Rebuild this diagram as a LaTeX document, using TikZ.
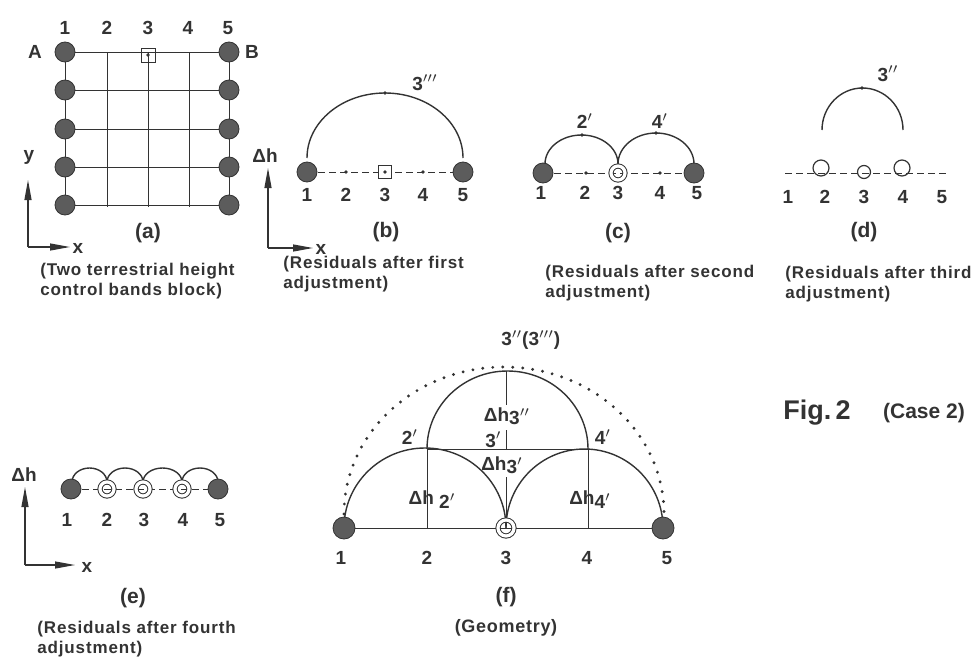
\documentclass[tikz,border=0pt]{standalone}
\usepackage{fontspec}
\setmainfont{Liberation Sans}
\usetikzlibrary{arrows.meta}
\definecolor{ink}{gray}{0.2}
\definecolor{dotgray}{gray}{0.36}

\tikzset{
  station/.style={circle, fill=dotgray, draw=ink, line width=0.4pt, minimum size=10pt, inner sep=0pt},
  ring/.style={circle, draw=ink, double=white, double distance=1.6pt, line width=0.5pt, minimum size=7pt, inner sep=0pt},
  hollow/.style={circle, draw=ink, line width=0.6pt, inner sep=0pt},
  pt/.style={circle, fill=ink, minimum size=1.8pt, inner sep=0pt},
  num/.style={font=\bfseries\fontsize{9.5}{11}\selectfont, text=ink, inner sep=0pt},
  tag/.style={font=\bfseries\fontsize{10.5}{12}\selectfont, text=ink, inner sep=0pt},
  capt/.style={font=\bfseries\fontsize{8.5}{10}\selectfont\addfontfeature{LetterSpace=5}, text=ink, align=left, anchor=north west, inner sep=0pt},
  axis/.style={draw=ink, line width=0.6pt, -{Triangle[length=10pt,width=3.5pt]}},
  base/.style={draw=ink, line width=0.5pt, dash pattern=on 3.5pt off 2pt},
  grid/.style={draw=ink, line width=0.5pt},
  arcline/.style={draw=ink, line width=0.7pt}
}

\begin{document}
\begin{tikzpicture}[x=0.5pt,y=-0.5pt]
  \useasboundingbox (0,0) rectangle (979,664);

  % (a) control bands block
  \foreach \r/\y in {1/52,2/90,3/129,4/167,5/205}{
    \coordinate (aL\r) at (65,\y);
    \coordinate (aR\r) at (229,\y);
    \draw[grid] (aL\r) -- (aR\r);
  }
  \foreach \c/\x in {2/107,3/148,4/189}{
    \coordinate (aT\c) at (\x,52);
    \coordinate (aB\c) at (\x,207);
    \draw[grid] (aT\c) -- (aB\c);
  }
  \draw[grid] (aL1) -- (aL5);
  \draw[grid] (aR1) -- (aR5);
  \foreach \r in {1,...,5}{
    \node[station] (sL\r) at (aL\r) {};
    \node[station] (sR\r) at (aR\r) {};
  }
  \node[draw=ink, line width=0.5pt, minimum size=7pt, inner sep=0pt] (aSq) at (148,55) {};
  \node[pt] (aSqDot) at (aSq) {};
  \foreach \c/\x in {1/65,2/107,3/148,4/188,5/228}
    \node[num] (aN\c) at (\x,28) {\c};
  \node[num] (aA) at (35,52) {A};
  \node[num] (aB) at (252,52) {B};
  \node[tag] (aTag) at (148,233) {(a)};
  \coordinate (aO) at (28,247);
  \coordinate (aY) at (28,180);
  \coordinate (aX) at (70,247);
  \draw[axis] (aO) -- (aY);
  \draw[axis] (aO) -- (aX);
  \node[num] (aYl) at (29,157) {y};
  \node[num] (aXl) at (78,248) {x};
  \node[capt] (aCap) at (40,263) {(Two terrestrial height\\control bands block)};

  % (b) first adjustment
  \foreach \i/\x in {1/307,2/346,3/385,4/423,5/463}{
    \coordinate (b\i) at (\x,172);
    \node[num] (bN\i) at (\x,195) {\i};
  }
  \draw[base] (b1) -- (b5);
  \coordinate (bArc) at (307,158);
  \draw[arcline] (bArc) arc[start angle=180, end angle=360, x radius=78, y radius=65];
  \node[pt] (bTop) at (385,93) {};
  \node[station] (bS1) at (b1) {};
  \node[station] (bS5) at (b5) {};
  \node[pt] (bP2) at (b2) {};
  \node[pt] (bP4) at (b4) {};
  \node[draw=ink, fill=white, line width=0.5pt, minimum size=6.5pt, inner sep=0pt] (bSq) at (b3) {};
  \node[pt] (bSqDot) at (bSq) {};
  \node[num] (bLab) at (425,83) {3$^{\prime\prime\prime}$};
  \node[tag] (bTag) at (386,232) {(b)};
  \coordinate (bO) at (268,248);
  \coordinate (bY) at (268,168);
  \coordinate (bX) at (313,248);
  \draw[axis] (bO) -- (bY);
  \draw[axis] (bO) -- (bX);
  \node[num] (bYl) at (265,156) {Δh};
  \node[num] (bXl) at (321,249) {x};
  \node[capt] (bCap) at (283,256) {(Residuals after first\\adjustment)};

  % (c) second adjustment
  \foreach \i/\x in {1/543,2/586,3/618,4/660,5/694}
    \coordinate (c\i) at (\x,173);
  \foreach \i/\x in {1/541,2/585,3/618,4/660,5/697}
    \node[num] (cN\i) at (\x,193) {\i};
  \draw[base] (c1) -- (c5);
  \draw[arcline] (545,164) arc[start angle=180, end angle=360, x radius=36.5, y radius=29];
  \draw[arcline] (618,164) arc[start angle=180, end angle=360, x radius=38, y radius=31];
  \node[pt] (cTop2) at (582,135) {};
  \node[pt] (cTop4) at (656,133) {};
  \node[station] (cS1) at (c1) {};
  \node[station] (cS5) at (c5) {};
  \node[pt] (cP2) at (c2) {};
  \node[pt] (cP4) at (c4) {};
  \node[ring] (cR3) at (c3) {};
  \node[num] (cLab2) at (585,121) {2$^{\prime}$};
  \node[num] (cLab4) at (660,121) {4$^{\prime}$};
  \node[tag] (cTag) at (618,233) {(c)};
  \node[capt] (cCap) at (545,265) {(Residuals after second\\adjustment)};

  % (d) third adjustment
  \coordinate (dL) at (785,173);
  \coordinate (dR) at (947,173);
  \draw[base] (dL) -- (dR);
  \node[hollow, minimum size=8pt] (dC2) at (821,168) {};
  \node[hollow, minimum size=6.5pt] (dC3) at (864,172) {};
  \node[hollow, minimum size=8pt] (dC4) at (902,168) {};
  \draw[arcline] (822,130) arc[start angle=180, end angle=360, x radius=40.5, y radius=42];
  \node[pt] (dTop) at (862,88) {};
  \node[num] (dLab) at (888,74) {3$^{\prime\prime}$};
  \foreach \i/\x in {1/788,2/825,3/864,4/903,5/942}
    \node[num] (dN\i) at (\x,197) {\i};
  \node[tag] (dTag) at (864,232) {(d)};
  \node[capt] (dCap) at (785,266) {(Residuals after third\\adjustment)};

  % (e) fourth adjustment
  \foreach \i/\x in {1/71,2/107,3/143,4/182,5/218}
    \coordinate (e\i) at (\x,489);
  \draw[base] (e1) -- (e5);
  \draw[arcline] (72,482) arc[start angle=180, end angle=360, x radius=17.5, y radius=14];
  \draw[arcline] (107,482) arc[start angle=180, end angle=360, x radius=18, y radius=14];
  \draw[arcline] (143,482) arc[start angle=180, end angle=360, x radius=19.5, y radius=14];
  \draw[arcline] (182,482) arc[start angle=180, end angle=360, x radius=18, y radius=14];
  \node[station] (eS1) at (e1) {};
  \node[station] (eS5) at (e5) {};
  \foreach \i in {2,3,4}
    \node[ring] (eR\i) at (e\i) {};
  \foreach \i/\x in {1/67,2/107,3/144,4/183,5/220}
    \node[num] (eN\i) at (\x,520) {\i};
  \coordinate (eO) at (25,565);
  \coordinate (eY) at (25,487);
  \coordinate (eX) at (75,565);
  \draw[axis] (eO) -- (eY);
  \draw[axis] (eO) -- (eX);
  \node[num] (eYl) at (24,475) {Δh};
  \node[num] (eXl) at (87,567) {x};
  \node[tag] (eTag) at (133,598) {(e)};
  \node[capt] (eCap) at (37,621) {(Residuals after fourth\\adjustment)};

  % (f) geometry
  \foreach \i/\x in {1/344,2/427,3/506,4/588,5/663}
    \coordinate (f\i) at (\x,528);
  \coordinate (fT2) at (427,449);
  \coordinate (fT4) at (588,449);
  \draw[grid] (f1) -- (f5);
  \draw[grid] (f2) -- (fT2);
  \draw[grid] (f4) -- (fT4);
  \draw[grid] (fT2) -- (fT4);
  \draw[grid] (506,371) -- (506,405);
  \draw[grid] (506,430) -- (506,449);
  \draw[grid] (506,477) -- (506,517);
  \draw[arcline] (f1) arc[start angle=180, end angle=360, x radius=81, y radius=80];
  \draw[arcline] (f3) arc[start angle=180, end angle=360, x radius=78.5, y radius=79];
  \draw[arcline] (fT2) arc[start angle=180, end angle=360, x radius=80.5, y radius=78];
  \draw[ink, line width=1.6pt, line cap=round, dash pattern=on 0pt off 5pt]
    (344,514) arc[start angle=180, end angle=360, x radius=160, y radius=147];
  \node[station, minimum size=11pt] (fS1) at (f1) {};
  \node[station, minimum size=11pt] (fS5) at (f5) {};
  \node[ring, minimum size=8pt] (fR3) at (f3) {};
  \node[num, anchor=west] (fTop) at (501,340) {3$^{\prime\prime}$(3$^{\prime\prime\prime}$)};
  \node[num] (fH3b) at (507,416) {Δh\raisebox{-1.5pt}{3$^{\prime\prime}$}};
  \node[num, anchor=east] (f3p) at (502,440) {3$^{\prime}$};
  \node[num] (f2p) at (410,437) {2$^{\prime}$};
  \node[num] (f4p) at (603,437) {4$^{\prime}$};
  \node[num] (fH3a) at (502,465) {Δh\raisebox{-1.5pt}{3$^{\prime}$}};
  \node[num] (fH2) at (432,500) {Δh \raisebox{-2pt}{2$^{\prime}$}};
  \node[num] (fH4) at (590,500) {Δh\raisebox{-2pt}{4$^{\prime}$}};
  \foreach \i/\x in {1/341,2/427,3/506,4/587,5/667}
    \node[num] (fN\i) at (\x,558) {\i};
  \node[tag] (fTag) at (506,597) {(f)};
  \node[tag, font=\bfseries\fontsize{9}{11}\selectfont\addfontfeature{LetterSpace=4}] (fCap) at (506,628) {(Geometry)};

  % figure title
  \node[text=ink, font=\bfseries\fontsize{13.5}{15}\selectfont, inner sep=0pt] (fig) at (817,413) {Fig.\,2};
  \node[text=ink, font=\bfseries\fontsize{10.5}{12}\selectfont, inner sep=0pt] (case) at (924,413) {(Case 2)};
\end{tikzpicture}
\end{document}
